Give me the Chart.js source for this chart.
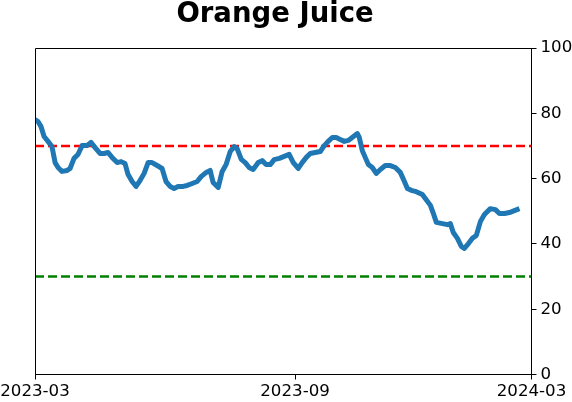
<!DOCTYPE html>
<html>
<head>
<meta charset="utf-8">
<script src="https://cdn.jsdelivr.net/npm/chart.js@4/dist/chart.umd.min.js"></script>
<style>
html,body{margin:0;padding:0;background:#fff;}
#wrap{width:572px;height:402px;}
</style>
</head>
<body>
<div id="wrap"><canvas id="c" width="572" height="402"></canvas></div>
<script>
// ---- data ----
const titleText = 'Orange Juice';
const dayIndex = [0,1.5,3,4.6,6.6,8.6,10.2,11.7,13.7,16.3,17.8,19.8,21.8,23.9,26.4,28.4,30.5,33,35,37.1,39.1,41.7,43.7,45.7,47.2,49.3,51.3,53.3,55.4,57.4,59.4,62,64.5,66.5,68.6,70.6,72.6,75.2,77.2,79.8,82.3,84.3,86.9,88.9,90.4,93,95,97,99.1,101.1,102.6,104.7,106.7,108.7,110.7,113.3,115.3,117.3,119.4,121.4,124,126.5,129,131.1,133.6,135.6,137.7,139.7,142.2,144.8,146.8,148.8,150.9,152.9,154.9,157,159,161,163.6,164.6,166.1,167.6,169.2,171.2,173.2,175.3,177.8,180.3,182.9,185.4,187.5,189,191,193.5,196.6,198.1,200.7,202.2,203.7,206.8,209.3,210.8,212.3,214.4,216.4,217.9,220,222,224,226.1,228.1,231.1,233.7,235.7,238.3,240.8,243.3,245.9];
const values = [78.1,77.5,76.0,72.9,71.4,69.8,64.9,63.4,62.2,62.5,63.1,66.2,67.4,70.1,70.1,71.1,69.5,67.7,67.7,68.0,66.5,64.9,65.2,64.6,61.3,59.1,57.6,59.4,61.6,64.9,64.9,64.0,63.1,59.1,57.6,57.0,57.6,57.6,57.9,58.5,59.1,60.6,61.9,62.5,58.8,57.3,62.2,64.3,68.3,69.8,69.2,65.9,64.9,63.4,62.8,64.9,65.5,64.3,64.3,65.8,66.2,66.8,67.4,64.9,63.1,64.9,66.5,67.7,68.0,68.3,70.1,71.4,72.6,72.6,72.0,71.4,71.7,72.6,73.8,72.6,68.6,66.5,64.3,63.4,61.6,62.8,64.0,64.0,63.4,61.9,59.1,57.0,56.4,56.0,55.1,53.9,51.8,49.3,46.6,46.2,45.9,46.2,43.5,41.7,39.2,38.6,40.1,41.7,42.6,46.9,49.0,50.8,50.5,49.3,49.3,49.6,50.2,50.8];
const upperLevel = 70;
const lowerLevel = 30;
const xMin = 0, xMax = 252;
const xTickPositions = [0, 132, 252];
const xTickLabels = ['2023-03', '2023-09', '2024-03'];
const yTicks = [0, 20, 40, 60, 80, 100];

const FONT = 'DejaVu Sans';

const mainData = dayIndex.map((d, i) => ({x: d, y: values[i]}));
const hline = v => [{x: xMin, y: v}, {x: xMax, y: v}];

const framePlugin = {
  id: 'frame',
  afterDatasetsDraw(chart) {
    const {ctx, chartArea: a} = chart;
    ctx.save();
    ctx.strokeStyle = '#000';
    ctx.lineWidth = 1;
    ctx.beginPath();
    ctx.moveTo(a.left + 0.5, a.bottom);
    ctx.lineTo(a.left + 0.5, a.top + 0.5);
    ctx.lineTo(a.right, a.top + 0.5);
    ctx.stroke();
    ctx.restore();
  },
  afterDraw(chart) {
    const {ctx} = chart;
    ctx.save();
    ctx.fillStyle = '#000';
    ctx.font = 'bold 27.5px "' + FONT + '"';
    ctx.textAlign = 'center';
    ctx.textBaseline = 'alphabetic';
    ctx.fillText(titleText, 275, 22);
    ctx.restore();
  }
};

new Chart(document.getElementById('c'), {
  type: 'line',
  data: {
    datasets: [
      {data: mainData, borderColor: '#1f77b4', borderWidth: 5, pointRadius: 0, tension: 0,
       borderJoinStyle: 'round', borderCapStyle: 'butt', order: 0},
      {data: hline(upperLevel), borderColor: '#ff0000', borderWidth: 2.5, borderDash: [9, 4],
       pointRadius: 0, order: 1},
      {data: hline(lowerLevel), borderColor: '#008000', borderWidth: 2.5, borderDash: [9, 4],
       pointRadius: 0, order: 1}
    ]
  },
  options: {
    responsive: false,
    animation: false,
    events: [],
    layout: {padding: {left: 35, top: 48, right: 0, bottom: 0}},
    plugins: {legend: {display: false}, tooltip: {enabled: false}, title: {display: false}},
    scales: {
      x: {
        type: 'linear', min: xMin, max: xMax,
        afterBuildTicks: s => { s.ticks = xTickPositions.map(v => ({value: v})); },
        afterFit: s => { s.height = 27.5; s.paddingLeft = 0; s.paddingRight = 0; },
        ticks: {
          autoSkip: false, maxRotation: 0, color: '#000', padding: 2,
          font: {family: FONT, size: 16.67},
          callback: (v) => { const i = xTickPositions.indexOf(v); return i >= 0 ? xTickLabels[i] : ''; }
        },
        grid: {drawOnChartArea: false, drawTicks: true, tickLength: 5, color: '#000', tickColor: '#000'},
        border: {display: true, color: '#000', width: 1}
      },
      y: {
        position: 'right', min: 0, max: 100,
        afterBuildTicks: s => { s.ticks = yTicks.map(v => ({value: v})); },
        afterFit: s => { s.width = 40.5; s.paddingTop = 0; s.paddingBottom = 0; },
        ticks: {color: '#000', padding: 4, font: {family: FONT, size: 16.67}},
        grid: {drawOnChartArea: false, drawTicks: true, tickLength: 5, color: '#000', tickColor: '#000'},
        border: {display: true, color: '#000', width: 1}
      }
    }
  },
  plugins: [framePlugin]
});
</script>
</body>
</html>
